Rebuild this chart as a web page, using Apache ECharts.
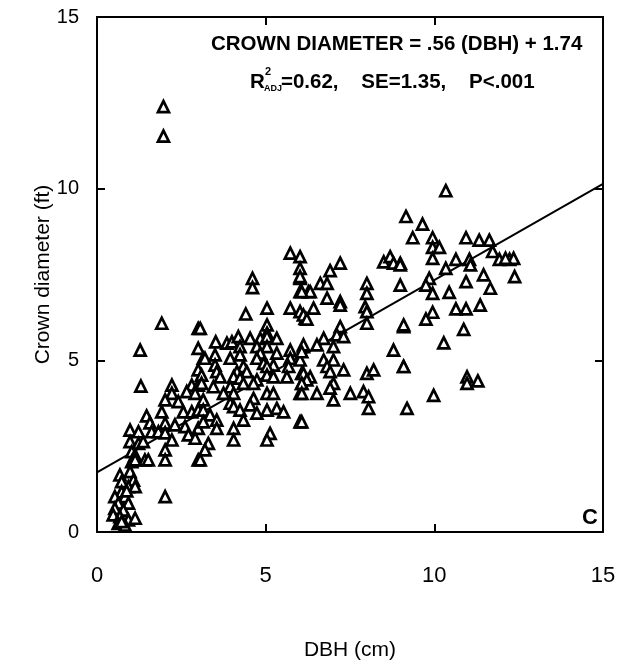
<!DOCTYPE html>
<html>
<head>
<meta charset="utf-8">
<script src="https://cdn.jsdelivr.net/npm/echarts@6/dist/echarts.min.js"></script>
<style>
  html, body { margin: 0; padding: 0; background: #fff; }
  #chart { width: 625px; height: 666px; }
</style>
</head>
<body>
<div id="chart"></div>
<script>
// DBH (cm) values of each tree
const dbh = [
  1.97, 1.97,
  0.68, 0.98, 0.73, 1.08, 0.93, 1.13, 0.73, 0.53, 0.83, 0.63, 0.93, 0.53, 0.78, 0.48, 0.68, 0.93, 1.13, 0.63, 0.83, 0.88, 0.73,
  1.30, 2.22, 2.22, 2.02, 1.92, 2.81, 3.00, 2.66, 2.91, 2.41, 2.56, 2.81, 3.00, 1.47, 1.57, 0.98, 1.23, 1.62, 1.82, 2.02, 2.02, 2.22, 2.31, 2.61, 2.71, 3.00, 2.91, 0.98, 1.23, 1.37, 1.03, 1.13, 1.42, 1.52, 1.03, 1.13, 2.02, 2.02, 3.00, 2.02,
  1.92, 3.00, 1.28, 3.00, 3.15, 3.00, 3.85,
  5.73, 6.02, 6.02, 6.02, 6.02, 6.27, 4.61, 4.61, 4.41, 5.04, 5.73, 6.02, 6.17, 5.04, 5.04, 3.06, 3.52, 4.00, 4.19, 4.24,
  4.54, 4.84, 5.04, 5.33, 4.74, 5.04, 4.84, 5.33, 5.73, 6.12, 3.20, 3.50, 3.95, 4.24, 4.74, 4.94, 5.23, 5.73, 6.02, 5.68,
  3.50, 3.55, 3.65, 4.34, 4.15, 4.44, 5.04, 5.04, 5.23, 3.10, 3.10, 4.05, 4.24, 4.74, 4.64, 5.63, 6.07, 6.07, 6.32,
  3.45, 3.95, 3.75, 4.05, 4.34, 5.04, 5.23, 4.64, 4.54, 6.02, 3.15, 3.15, 3.95, 4.05, 4.24, 5.33, 5.53, 5.04, 4.74,
  3.35, 3.55, 3.15, 4.34, 3.55, 4.05, 6.02, 4.05, 5.13, 5.04, 3.30, 3.20, 3.06,
  7.21, 6.91, 6.02, 6.62, 6.82, 6.32, 6.07, 6.82, 7.21, 7.21, 6.42, 6.12, 6.22, 8.00, 8.00, 7.95, 8.00, 8.00,
  8.50, 8.69, 8.79, 8.99, 7.21, 7.11, 7.31, 6.72, 6.52, 7.01, 6.12, 6.07, 9.09, 8.79, 6.72, 7.01, 6.82, 6.91, 7.31,
  8.00, 8.20, 9.09, 6.12, 6.22, 6.07, 7.01, 6.91, 6.52, 6.07, 7.01, 7.51, 7.90, 8.05, 8.05, 6.07,
  10.34, 9.16, 9.65, 9.36, 9.95, 9.95, 10.15, 9.95, 8.99, 10.94, 11.33, 11.63, 10.64, 11.04, 11.07, 11.73, 11.93, 12.23,
  10.34, 9.85, 9.75, 8.99, 11.46, 10.94, 11.66, 9.95, 10.44, 10.64, 10.94, 11.36, 9.95, 9.75, 9.09, 10.87, 10.28,
  9.09, 10.97, 10.97, 11.29, 9.98, 9.19, 12.35, 12.11, 12.38
];
// Crown diameter (ft) of each tree, same order
const crown = [
  12.39, 11.53,
  1.66, 1.76, 1.47, 1.51, 1.32, 1.32, 1.17, 1.03, 1.03, 0.84, 0.84, 0.69, 0.64, 0.50, 0.45, 0.35, 0.40, 0.25, 0.20, 1.20, 0.30,
  4.25, 4.28, 4.04, 3.85, 3.50, 4.28, 4.28, 4.09, 4.04, 3.80, 3.50, 3.50, 3.55, 3.38, 3.18, 2.97, 2.92, 2.92, 2.92, 3.17, 2.89, 2.68, 3.12, 3.07, 2.83, 3.02, 2.73, 2.63, 2.58, 2.63, 2.34, 2.24, 2.10, 2.10, 2.05, 2.10, 2.39, 2.10, 2.10, 1.03,
  6.08, 5.93, 5.30, 5.35, 5.06, 4.72, 5.50,
  8.12, 8.02, 7.68, 7.39, 7.00, 7.00, 7.39, 7.12, 6.35, 6.52, 6.52, 6.42, 6.22, 6.03, 5.79, 5.93, 5.54, 5.54, 5.69, 5.40,
  5.64, 5.64, 5.69, 5.64, 5.40, 5.40, 5.21, 5.21, 5.30, 5.40, 5.06, 5.16, 5.06, 5.16, 5.06, 4.91, 4.86, 5.06, 5.01, 4.82,
  4.86, 4.67, 4.52, 4.82, 4.67, 4.67, 4.82, 4.57, 4.52, 4.57, 4.33, 4.52, 4.48, 4.43, 4.33, 4.52, 4.62, 4.33, 4.52,
  4.23, 4.23, 4.04, 4.04, 4.33, 4.04, 4.04, 3.89, 3.70, 4.04, 3.85, 3.55, 3.75, 3.65, 3.55, 3.60, 3.50, 3.55, 3.46,
  3.41, 3.26, 3.21, 3.26, 3.02, 3.02, 3.21, 2.68, 2.87, 2.68, 2.58, 2.39, 2.10,
  7.83, 7.61, 7.44, 7.24, 7.24, 7.00, 7.00, 6.81, 6.71, 6.61, 6.52, 6.32, 6.20, 7.24, 6.95, 6.56, 6.42, 6.08,
  7.87, 8.02, 7.83, 7.83, 5.98, 5.74, 5.69, 5.64, 5.45, 5.40, 5.45, 5.25, 5.98, 5.30, 5.01, 5.01, 4.82, 4.67, 4.72,
  4.62, 4.72, 4.82, 4.62, 4.43, 4.33, 4.33, 4.19, 4.04, 4.04, 3.85, 4.04, 4.09, 3.94, 3.60, 3.21,
  9.94, 9.19, 8.97, 8.57, 8.57, 8.29, 8.29, 7.97, 7.78, 8.57, 8.50, 8.50, 7.94, 7.94, 7.78, 8.17, 7.94, 7.94,
  7.68, 7.39, 7.19, 7.19, 7.49, 7.29, 7.10, 6.95, 6.98, 6.50, 6.50, 6.61, 6.40, 6.20, 6.03, 5.90, 5.51,
  4.82, 4.52, 4.33, 4.40, 3.98, 3.60, 7.97, 7.97, 7.44
];
// Regression: CROWN DIAMETER = .56 (DBH) + 1.74
const slope = 0.56;
const intercept = 1.74;
const xTicks = [0, 5, 10, 15];
const yTicks = [0, 5, 10, 15];

const FONT = '"Liberation Sans", Arial, Helvetica, sans-serif';
const points = dbh.map((d, i) => [d, crown[i]]);
const fitLine = [[xTicks[0], intercept + slope * xTicks[0]], [xTicks[3], intercept + slope * xTicks[3]]];

const chart = echarts.init(document.getElementById('chart'), null, { renderer: 'canvas' });

const axisCommon = {
  type: 'value', min: 0, max: 15, interval: 5,
  axisLine: { show: true, onZero: false, lineStyle: { color: '#000', width: 2 } },
  axisTick: { show: true, inside: true, length: 8, lineStyle: { color: '#000', width: 2 } },
  splitLine: { show: false }
};

chart.setOption({
  animation: false,
  backgroundColor: '#fff',
  grid: { left: 97, right: 22, top: 17, bottom: 134, containLabel: false },
  xAxis: [
    Object.assign({}, axisCommon, {
      position: 'bottom',
      name: 'DBH (cm)', nameLocation: 'middle', nameGap: 108,
      nameTextStyle: { fontFamily: FONT, fontSize: 21, color: '#000' },
      axisLabel: { show: true, margin: 33, fontFamily: FONT, fontSize: 22, color: '#000' }
    }),
    Object.assign({}, axisCommon, { position: 'top', axisLabel: { show: false } })
  ],
  yAxis: [
    Object.assign({}, axisCommon, {
      position: 'left',
      name: 'Crown diameter (ft)', nameLocation: 'middle', nameGap: 43, nameRotate: 90,
      nameMoveOverlap: false,
      nameTextStyle: { fontFamily: FONT, fontSize: 21, color: '#000' },
      axisLabel: { show: true, margin: 18, fontFamily: FONT, fontSize: 20, color: '#000' }
    }),
    Object.assign({}, axisCommon, { position: 'right', axisLabel: { show: false } })
  ],
  series: [
    {
      type: 'line', data: fitLine, xAxisIndex: 0, yAxisIndex: 0,
      symbol: 'none', lineStyle: { color: '#000', width: 2 }, z: 3
    },
    {
      type: 'scatter', data: points, xAxisIndex: 0, yAxisIndex: 0,
      symbol: 'triangle', symbolSize: 11,
      itemStyle: { color: '#fff', borderColor: '#000', borderWidth: 2.7, opacity: 1 },
      z: 4
    }
  ],
  graphic: [
    { type: 'text', left: 211, top: 34,
      style: { text: 'CROWN DIAMETER = .56 (DBH) + 1.74', font: 'bold 20.5px ' + FONT, fill: '#000' } },
    { type: 'text', left: 250, top: 72,
      style: { text: 'R', font: 'bold 20.5px ' + FONT, fill: '#000' } },
    { type: 'text', left: 265, top: 66,
      style: { text: '2', font: 'bold 11px ' + FONT, fill: '#000' } },
    { type: 'text', left: 264, top: 84,
      style: { text: 'ADJ', font: 'bold 9px ' + FONT, fill: '#000' } },
    { type: 'text', left: 281, top: 72,
      style: { text: '=0.62,    SE=1.35,    P<.001', font: 'bold 20.5px ' + FONT, fill: '#000' } },
    { type: 'text', left: 582, top: 507,
      style: { text: 'C', font: 'bold 22px ' + FONT, fill: '#000' } }
  ]
});
</script>
</body>
</html>
